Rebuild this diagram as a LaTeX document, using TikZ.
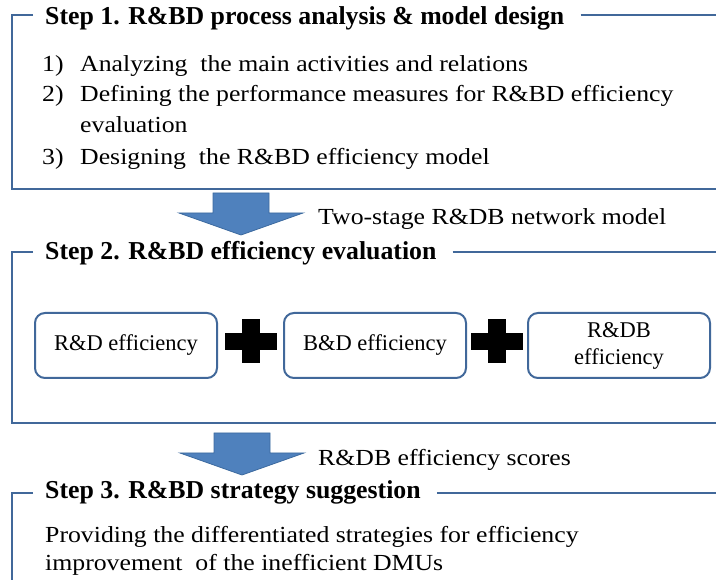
\documentclass[tikz,border=0pt]{standalone}
\usepackage{fontspec}
\setmainfont{Liberation Serif}
\usepackage{graphicx}
\usetikzlibrary{positioning,calc}

\definecolor{framecol}{HTML}{41689A}
\definecolor{arrowfill}{HTML}{4F81BD}
\definecolor{arrowedge}{HTML}{3C6A9F}

% body text is set a little wide
\newcommand{\wide}[1]{\scalebox{1.12}[1]{#1}}

\tikzset{
  frame/.style={draw=framecol, line width=2.4pt},
  steptitle/.style={anchor=base west, inner sep=0pt, font=\fontsize{25.8}{30}\selectfont\bfseries},
  item/.style={anchor=base west, inner sep=0pt, font=\fontsize{23}{27}\selectfont},
  effbox/.style={draw=framecol, line width=2pt, rounded corners=10pt,
    minimum width=182pt, minimum height=65pt, align=center,
    font=\fontsize{22.5}{27}\selectfont},
  plusbar/.style={fill=black, inner sep=0pt},
}

% big block arrow, #1 = top centre of the shaft
\newcommand{\stagearrow}[1]{%
  \draw[fill=arrowfill, draw=arrowedge, line width=0.8pt]
    (#1) ++(-28,0) -- ++(56,0) -- ++(0,20) -- ++(34,0) -- ++(-62,22)
    -- ++(-62,-22) -- ++(34,0) -- cycle;}

\begin{document}
\begin{tikzpicture}[x=1pt, y=-1pt]

\useasboundingbox (0,0) rectangle (716,580);

%% step 1
\node[steptitle] (s1) at (45,25) {Step 1. R\&BD process analysis \& model design};
\draw[frame] (33,15) -- (12,15) -- (12,189) -- (730,189);
\draw[frame] ([xshift=16pt]s1.east |- 0,15) -- (730,15);

\node[item] (n1) at (42,72) {\wide{1)}};
\node[item] (a1) at (80,72) {\wide{Analyzing\ \ the main activities and relations}};
\node[item] (n2) at (42,102) {\wide{2)}};
\node[item] (a2) at (80,102) {\wide{Defining the performance measures for R\&BD efficiency}};
\node[item] (a2b) at (80,133) {\wide{evaluation}};
\node[item] (n3) at (42,165) {\wide{3)}};
\node[item] (a3) at (80,165) {\wide{Designing\ \ the R\&BD efficiency model}};

\coordinate (ar1) at (241,193);
\stagearrow{ar1}
\node[item] (lab1) at (318,225) {\wide{Two-stage R\&DB network model}};

%% step 2
\node[steptitle] (s2) at (45,260) {Step 2. R\&BD efficiency evaluation};
\draw[frame] (33,252) -- (12,252) -- (12,423) -- (730,423);
\draw[frame] ([xshift=16pt]s2.east |- 0,252) -- (730,252);

\node[effbox] (rd) at (126,345.5) {R\&D efficiency};
\node[effbox, right=65pt of rd] (bd) {B\&D efficiency};
\node[effbox, right=60pt of bd] (rdb) {R\&DB\\efficiency};

\coordinate (p1) at ($(rd.east)!0.5!(bd.west)+(0,-4)$);
\coordinate (p2) at ($(bd.east)!0.5!(rdb.west)+(0,-4)$);
\foreach \p in {p1,p2}{
  \node[plusbar, minimum width=52pt, minimum height=17pt] at (\p) {};
  \node[plusbar, minimum width=18pt, minimum height=44pt] at (\p) {};
}

\coordinate (ar2) at (242,433);
\stagearrow{ar2}
\node[item] (lab2) at (318,466) {\wide{R\&DB efficiency scores}};

%% step 3
\node[steptitle] (s3) at (45,499) {Step 3. R\&BD strategy suggestion};
\draw[frame] (33,493) -- (12,493) -- (12,590);
\draw[frame] ([xshift=16pt]s3.east |- 0,493) -- (730,493);

\node[item] (t1) at (45,542) {\wide{Providing the differentiated strategies for efficiency}};
\node[item] (t2) at (45,570) {\wide{improvement\ \ of the inefficient DMUs}};

\end{tikzpicture}
\end{document}
